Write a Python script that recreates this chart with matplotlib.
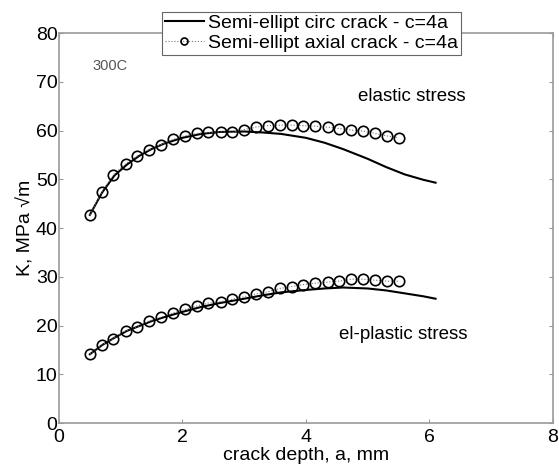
import matplotlib
matplotlib.use('Agg')
import matplotlib.pyplot as plt

plt.rcParams['font.family'] = ['Liberation Sans', 'DejaVu Sans']

# axial crack (circles), both load cases share the same crack depths
a_axial = [0.50, 0.69, 0.88, 1.08, 1.27, 1.46, 1.65, 1.85, 2.04, 2.23, 2.42,
           2.62, 2.81, 3.00, 3.19, 3.38, 3.58, 3.77, 3.96, 4.15, 4.35, 4.54,
           4.73, 4.92, 5.12, 5.31, 5.50]
K_axial_el = [42.7, 47.3, 50.9, 53.2, 54.8, 56.1, 57.1, 58.2, 58.9, 59.4, 59.6,
              59.7, 59.6, 60.2, 60.7, 61.0, 61.1, 61.1, 61.0, 60.9, 60.7, 60.4,
              60.1, 59.9, 59.4, 58.9, 58.5]
K_axial_pl = [14.1, 16.0, 17.3, 18.9, 19.8, 20.9, 21.7, 22.6, 23.3, 24.0, 24.6,
              24.9, 25.4, 25.9, 26.5, 26.9, 27.6, 28.0, 28.4, 28.7, 28.9, 29.1,
              29.5, 29.5, 29.3, 29.1, 29.1]

# circumferential crack (solid line)
a_circ = [0.5, 0.7, 0.9, 1.1, 1.3, 1.5, 1.7, 2.0, 2.3, 2.6, 3.0, 3.3, 3.6,
          4.0, 4.3, 4.6, 5.0, 5.3, 5.6, 5.9, 6.1]
K_circ_el = [42.7, 47.3, 50.8, 53.0, 54.8, 56.2, 57.3, 58.5, 59.3, 59.7, 59.8,
             59.6, 59.3, 58.5, 57.5, 56.2, 54.2, 52.5, 51.0, 49.9, 49.3]
K_circ_pl = [14.1, 16.0, 17.5, 18.9, 19.9, 20.9, 21.7, 22.8, 23.8, 24.6, 25.5,
             26.2, 26.8, 27.3, 27.6, 27.8, 27.6, 27.2, 26.6, 26.0, 25.5]

fig = plt.figure(figsize=(5.59, 4.69), dpi=100)
ax = fig.add_axes([0.1055, 0.098, 0.8835, 0.8316])

l1, = ax.plot(a_circ, K_circ_el, color='black', lw=1.5)
ax.plot(a_circ, K_circ_pl, color='black', lw=1.5)
l2, = ax.plot(a_axial, K_axial_el, color='#777777', ls=':', lw=0.8,
              marker='o', ms=7.5, mfc='none', mec='black', mew=1.2)
ax.plot(a_axial, K_axial_pl, color='#777777', ls=':', lw=0.8,
        marker='o', ms=7.5, mfc='none', mec='black', mew=1.2)

ax.set_xlim(0, 8)
ax.set_ylim(0, 80)
ax.set_xticks([0, 2, 4, 6, 8])
ax.set_yticks(range(0, 81, 10))
ax.tick_params(direction='in', top=True, right=True, labelsize=14,
               color='#999999', length=3)
ax.tick_params(axis='x', pad=4)
ax.tick_params(axis='y', pad=1)
for s in ax.spines.values():
    s.set_color('#999999')
    s.set_linewidth(1.2)

ax.set_xlabel('crack depth, a, mm', fontsize=14, labelpad=1)
ax.set_ylabel('K, MPa \u221am', fontsize=14, labelpad=1)

ax.text(0.55, 73.3, '300C', fontsize=10.5, color='#555555', va='center')
ax.text(4.84, 66.9, 'elastic stress', fontsize=13.5, va='center')
ax.text(4.53, 18.2, 'el-plastic stress', fontsize=13.5, va='center')

leg = fig.legend([l1, l2], ['Semi-ellipt circ crack - c=4a',
                            'Semi-ellipt axial crack - c=4a'],
                 loc='upper left', bbox_to_anchor=(0.29, 0.975),
                 fontsize=14, fancybox=False, framealpha=1,
                 borderpad=0.15, handlelength=2.0, handletextpad=0.2,
                 labelspacing=0.1, borderaxespad=0)
leg.get_frame().set_edgecolor('#666666')
leg.get_frame().set_linewidth(0.8)
leg.legend_handles[1].set_markersize(5)

fig.savefig('out.png', dpi=100)
